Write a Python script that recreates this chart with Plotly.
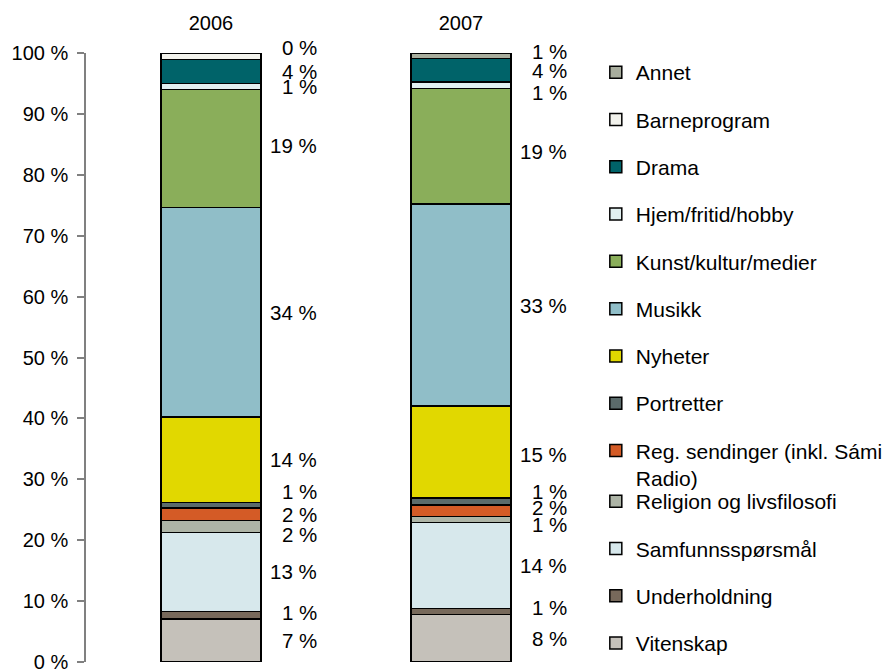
import plotly.graph_objects as go

years = ["2006", "2007"]

# stacking order: bottom -> top
series = [
    "Vitenskap", "Underholdning", "Samfunnsspørsmål", "Religion og livsfilosofi",
    "Reg. sendinger (inkl. Sámi<br>Radio)", "Portretter", "Nyheter", "Musikk",
    "Kunst/kultur/medier", "Hjem/fritid/hobby", "Drama", "Barneprogram", "Annet",
]
vitenskap = [7.1, 7.8]
underholdning = [1.2, 1.0]
samfunn = [13.0, 14.1]
religion = [1.9, 1.0]
reg_sendinger = [2.1, 1.9]
portretter = [0.9, 1.1]
nyheter = [14.0, 15.1]
musikk = [34.4, 33.2]
kunst = [19.4, 19.0]
hjem = [1.0, 1.0]
drama = [3.9, 3.9]
barneprogram = [1.0, 0.0]
annet = [0.1, 0.9]

values = [vitenskap, underholdning, samfunn, religion, reg_sendinger, portretter,
          nyheter, musikk, kunst, hjem, drama, barneprogram, annet]

# data labels as printed in the chart (None = no label)
labels = [
    ["7 %", "8 %"], ["1 %", "1 %"], ["13 %", "14 %"], ["2 %", "1 %"],
    ["2 %", "2 %"], ["1 %", "1 %"], ["14 %", "15 %"], ["34 %", "33 %"],
    ["19 %", "19 %"], ["1 %", "1 %"], ["4 %", "4 %"], [None, None], ["0 %", "1 %"],
]

colors = ["#C5C1BA", "#77695B", "#D7E8EC", "#ADB4A6", "#D45B26", "#5B6B6B",
          "#E1D800", "#90BEC8", "#8AAE5A", "#E2F0F0", "#006369", "#F2F2EC", "#A8AD9D"]

# label nudges in pixels (positive = up), per series index and year index
nudge = {
    (12, 0): 6, (5, 0): 14, (3, 0): -8, (1, 0): 3, (8, 0): 3,
    (12, 1): 4, (9, 1): -7, (8, 1): -5, (5, 1): 10, (4, 1): 3, (3, 1): -5,
    (1, 1): 4, (6, 1): -2,
}

FONT = "Liberation Sans, Arial, sans-serif"

fig = go.Figure()
n = len(series)
for i, (name, vals, col) in enumerate(zip(series, values, colors)):
    fig.add_trace(go.Bar(
        x=years, y=vals, name=name, marker=dict(color=col, line=dict(color="#000000", width=1.5)),
        width=0.4, legendgroup=f"g{i}", legendrank=100 + (n - i),
        legend="legend" if i >= 4 else "legend2",
    ))

annotations = []
cum = [0.0, 0.0]
for i, vals in enumerate(values):
    for j in range(2):
        center = cum[j] + vals[j] / 2
        txt = labels[i][j]
        if txt is not None:
            annotations.append(dict(
                x=j, y=center, xref="x", yref="y", text=txt, showarrow=False,
                xanchor="right", yanchor="middle", xshift=108, yshift=nudge.get((i, j), 0),
                font=dict(family=FONT, size=20.5, color="#000000"),
            ))
        cum[j] += vals[j]

legend_common = dict(
    xref="container", yref="container", x=0.674, yanchor="top", xanchor="left",
    traceorder="grouped", tracegroupgap=17, maxheight=640,
    font=dict(family=FONT, size=21, color="#000000"),
    valign="top", bgcolor="rgba(0,0,0,0)",
)

fig.update_layout(
    template="none",
    width=884, height=672,
    margin=dict(l=86, r=298, t=53, b=10, autoexpand=False),
    barmode="stack",
    plot_bgcolor="white", paper_bgcolor="white",
    font=dict(family=FONT, size=20, color="#000000"),
    annotations=annotations,
    showlegend=True,
    legend=dict(y=1 - 52 / 672, **legend_common),
    legend2=dict(y=1 - 481 / 672, **legend_common),
    xaxis=dict(
        type="category", side="top", range=[-0.5, 1.5], showline=False, ticks="", showgrid=False,
        tickfont=dict(family=FONT, size=20), ticklabelstandoff=18, automargin=False,
    ),
    yaxis=dict(
        range=[0, 100], dtick=10, ticksuffix=" %", showgrid=False, zeroline=False,
        showline=True, linecolor="#808080", linewidth=1.5,
        ticks="outside", ticklen=7, tickcolor="#808080", tickwidth=1.5,
        tickfont=dict(family=FONT, size=20), ticklabelstandoff=5, automargin=False,
        ticklabeloverflow="allow",
    ),
)

fig.write_html(
    "out.html",
    config={"displayModeBar": False},
    post_script="document.body.style.margin='0';document.body.style.overflow='hidden';",
)
